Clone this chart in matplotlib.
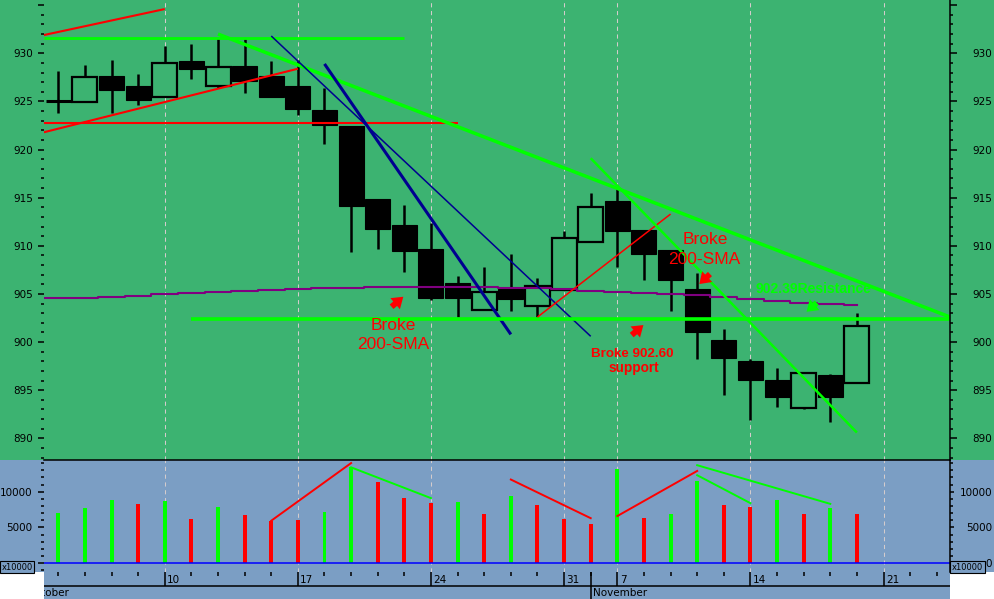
import matplotlib
matplotlib.use('Agg')
import matplotlib.pyplot as plt
from matplotlib.patches import Rectangle
from matplotlib.ticker import FixedLocator, FixedFormatter, MultipleLocator

# ---------------- data ----------------
opens  = [925.0, 924.9, 927.6, 926.6, 925.5, 929.2, 926.6, 928.7, 927.6, 926.6,
          924.1, 922.4, 914.9, 912.2, 909.7, 906.1, 903.3, 905.5, 903.8, 905.4,
          910.4, 914.7, 911.6, 909.6, 905.5, 900.2, 898.0, 896.1, 893.2, 896.6, 895.7]
highs  = [928.2, 928.8, 929.3, 927.9, 930.8, 931.0, 931.6, 931.5, 929.2, 929.3,
          926.4, 922.4, 914.9, 914.2, 912.4, 906.9, 907.8, 909.1, 906.7, 911.5,
          915.5, 916.0, 911.6, 909.6, 907.2, 901.4, 898.2, 897.3, 896.8, 896.7, 903.0]
lows   = [923.8, 924.9, 923.8, 924.6, 925.5, 927.3, 926.4, 925.9, 925.5, 923.6,
          920.6, 909.4, 909.7, 907.3, 904.4, 902.6, 903.3, 903.2, 902.6, 905.4,
          910.4, 907.8, 906.4, 903.2, 898.2, 894.5, 891.9, 893.3, 893.0, 891.7, 895.7]
closes = [925.0, 927.5, 926.2, 925.2, 929.0, 928.4, 928.6, 927.1, 925.5, 924.2,
          922.6, 914.1, 911.7, 909.5, 904.6, 904.6, 905.2, 904.5, 905.8, 910.8,
          914.0, 911.5, 909.1, 906.5, 901.0, 898.3, 896.1, 894.3, 896.8, 894.3, 901.7]
volumes = [7000, 7700, 8800, 8250, 8700, 6250, 7900, 6700, 5950, 6050,
           7100, 13450, 11400, 9150, 8450, 8600, 6850, 9400, 8100, 6250,
           5500, 13150, 6350, 6850, 11450, 8200, 7900, 8800, 6850, 7700, 6950]
vol_colors = ['g', 'g', 'g', 'r', 'g', 'r', 'g', 'r', 'r', 'r',
              'g', 'g', 'r', 'r', 'r', 'g', 'r', 'g', 'r', 'r',
              'r', 'g', 'r', 'g', 'g', 'r', 'r', 'g', 'r', 'g', 'r']
sma200 = [904.55, 904.6, 904.7, 904.8, 905.0, 905.1, 905.2, 905.3, 905.45, 905.55,
          905.6, 905.65, 905.7, 905.7, 905.7, 905.7, 905.7, 905.65, 905.6, 905.5,
          905.35, 905.2, 905.05, 905.0, 904.85, 904.7, 904.5, 904.3, 904.1, 904.0, 903.85]

day_tick_idx = [4, 9, 14, 19, 21, 26, 31]
day_labels = ['10', '17', '24', '31', '7', '14', '21']
month_labels = ['October', 'November']
month_start_idx = 20
n_slots = 34

# trend lines drawn on the chart: (x0, y0, x1, y1, colour, width)
price_lines = [
    (-0.54, 931.9, 4.0, 934.6, '#ff0000', 1.5),
    (-0.54, 931.6, 13.0, 931.6, '#00ff00', 2.0),
    (-0.54, 921.8, 9.0, 928.4, '#ff0000', 1.5),
    (-0.54, 922.8, 15.0, 922.8, '#ff0000', 1.5),
    (6.0, 932.0, 33.5, 902.6, '#00ff00', 2.5),
    (8.0, 931.8, 20.0, 900.6, '#000090', 1.1),
    (10.0, 928.9, 17.0, 900.8, '#000090', 2.2),
    (5.0, 902.39, 33.5, 902.39, '#00ff00', 2.6),
    (18.0, 902.6, 23.0, 913.3, '#ff0000', 1.1),
    (20.0, 919.1, 30.0, 890.6, '#00ff00', 1.8),
]
vol_lines = [
    (8, 5950, 11, 14000, '#ff0000'),
    (11, 13400, 14, 9100, '#00ff00'),
    (17, 11700, 20, 6300, '#ff0000'),
    (21, 6600, 24, 12900, '#ff0000'),
    (24, 13700, 29, 8300, '#00ff00'),
    (24, 12300, 26, 8400, '#00ff00'),
]

# ---------------- layout ----------------
W_PX, H_PX = 994, 599
BG_PRICE = '#3cb371'
BG_VOL = '#7b9ec4'
RED = '#ff0000'
GREEN = '#00ff00'

def fx(px):
    return px / W_PX

def fy(py):
    return 1 - py / H_PX

XL, XR = 44, 950
XLIM = (-0.537, 33.497)
PLIM = (887.75, 935.54)
VLIM = (-1215, 14427)

fig = plt.figure(figsize=(W_PX / 100, H_PX / 100), dpi=100, facecolor='white')
fig.patches.append(Rectangle((0, fy(460)), 1, 1 - fy(460), transform=fig.transFigure,
                             facecolor=BG_PRICE, edgecolor='none', zorder=-10))
fig.patches.append(Rectangle((0, fy(572)), 1, fy(460) - fy(572), transform=fig.transFigure,
                             facecolor=BG_VOL, edgecolor='none', zorder=-10))
fig.patches.append(Rectangle((fx(XL), 0), fx(XR) - fx(XL), fy(572), transform=fig.transFigure,
                             facecolor=BG_VOL, edgecolor='none', zorder=-10))

axw = fx(XR) - fx(XL)
ax = fig.add_axes([fx(XL), fy(460), axw, 1 - fy(460)])
axv = fig.add_axes([fx(XL), fy(572), axw, fy(460) - fy(572)])
axd = fig.add_axes([fx(XL), 0, axw, fy(572)])
for a in (ax, axv, axd):
    a.set_facecolor('none')
    a.set_xlim(XLIM)
    for s in a.spines.values():
        s.set_visible(False)
    a.tick_params(axis='x', which='both', bottom=False, top=False,
                  labelbottom=False, labeltop=False)

GRID = dict(color='#d4cccc', lw=0.75, dashes=(4, 3.5), zorder=0)
for g in day_tick_idx:
    ax.axvline(g, **GRID)
    axv.axvline(g, **GRID)

# ---------------- y axes ----------------
def setup_y(a, lim, major, minor, left_labels, right_labels,
            lmaj, lmin, lpad, rmaj, rmin, rpad):
    a.set_ylim(lim)
    a.yaxis.set_major_locator(FixedLocator(major))
    a.yaxis.set_major_formatter(FixedFormatter(left_labels))
    a.yaxis.set_minor_locator(MultipleLocator(minor))
    a.tick_params(axis='y', which='major', left=True, right=False, labelleft=True,
                  labelright=False, length=lmaj, width=1.1, pad=lpad, labelsize=7.5,
                  colors='black')
    a.tick_params(axis='y', which='minor', left=True, right=False, length=lmin, width=1.1)
    r = a.twinx()
    r.set_ylim(lim)
    r.set_facecolor('none')
    for s in r.spines.values():
        s.set_visible(False)
    r.spines['right'].set_visible(True)
    r.spines['right'].set_linewidth(1.1)
    r.yaxis.set_major_locator(FixedLocator(major))
    r.yaxis.set_major_formatter(FixedFormatter(right_labels))
    r.yaxis.set_minor_locator(MultipleLocator(minor))
    r.tick_params(axis='y', which='major', right=True, left=False, labelright=True,
                  labelleft=False, length=rmaj, width=1.1, pad=rpad, labelsize=7.5,
                  colors='black')
    r.tick_params(axis='y', which='minor', right=True, left=False, length=rmin, width=1.1)
    for t in r.yaxis.get_major_ticks():
        t.label2.set_horizontalalignment('right')
    return r

pmaj = [890, 895, 900, 905, 910, 915, 920, 925, 930, 935]
plab = ['890', '895', '900', '905', '910', '915', '920', '925', '930', '']
axr = setup_y(ax, PLIM, pmaj, 1, plab, plab, 4.3, 2.4, 3.4, 5.0, 2.2, 25.2)
vmaj = [0, 5000, 10000]
axvr = setup_y(axv, VLIM, vmaj, 1000, ['', '5000', '10000'], ['0', '5000', '10000'],
               4.1, 2.4, 4.3, 2.9, 2.2, 27.4)
axv.spines['top'].set_visible(True)
axv.spines['top'].set_linewidth(1.1)

# ---------------- candles ----------------
BODY_W = 0.94
for i, (o, h, l, c) in enumerate(zip(opens, highs, lows, closes)):
    ax.vlines(i, l, h, color='black', lw=1.8, zorder=2)
    lo, hi = min(o, c), max(o, c)
    if hi - lo < 0.05:
        ax.hlines(o, i - BODY_W / 2, i + BODY_W / 2, color='black', lw=2.2, zorder=3)
    elif c > o:
        ax.add_patch(Rectangle((i - BODY_W / 2, lo), BODY_W, hi - lo, facecolor=BG_PRICE,
                               edgecolor='black', lw=1.6, zorder=3))
    else:
        ax.add_patch(Rectangle((i - BODY_W / 2, lo), BODY_W, hi - lo, facecolor='black',
                               edgecolor='black', lw=0.8, zorder=3))

# 200-SMA (stepped)
sx = [XLIM[0]] + list(range(len(sma200)))
sy = [sma200[0]] + sma200
ax.plot(sx, sy, color='#800080', lw=1.5, drawstyle='steps-mid', zorder=4)

for x0, y0, x1, y1, col, lw in price_lines:
    ax.plot([x0, x1], [y0, y1], color=col, lw=lw, solid_capstyle='butt', zorder=5)

# annotations
TXT = dict(family=['Liberation Sans', 'DejaVu Sans'], zorder=6)
ax.text(12.6, 901.25, 'Broke', color=RED, fontsize=12.5, ha='center', va='baseline', **TXT)
ax.text(12.6, 899.25, '200-SMA', color=RED, fontsize=12.5, ha='center', va='baseline', **TXT)
ax.text(24.3, 910.16, 'Broke', color=RED, fontsize=12.5, ha='center', va='baseline', **TXT)
ax.text(24.27, 908.08, '200-SMA', color=RED, fontsize=12.5, ha='center', va='baseline', **TXT)
ax.text(21.57, 898.48, 'Broke 902.60', color=RED, fontsize=9.6, fontweight='bold',
        ha='center', va='baseline', **TXT)
ax.text(21.62, 896.92, 'support', color=RED, fontsize=9.8, fontweight='bold',
        ha='center', va='baseline', **TXT)
ax.text(28.35, 905.13, '902.39Resistance', color=GREEN, fontsize=10, fontweight='bold',
        ha='center', va='baseline', **TXT)

ARROW = 'simple,head_length=0.55,head_width=0.75,tail_width=0.3'
for (tx, ty, hx, hy, col) in [(12.52, 903.67, 12.96, 904.71, RED),
                              (21.54, 900.73, 21.98, 901.77, RED),
                              (24.48, 907.07, 24.08, 906.03, RED),
                              (28.49, 904.09, 28.11, 903.15, GREEN)]:
    ax.annotate('', xy=(hx, hy), xytext=(tx, ty),
                arrowprops=dict(arrowstyle=ARROW, color=col, lw=0, shrinkA=0, shrinkB=0,
                                mutation_scale=14), zorder=6)

# ---------------- volume ----------------
cmap = {'g': GREEN, 'r': RED}
axv.bar(range(len(volumes)), volumes, width=0.15, color=[cmap[c] for c in vol_colors],
        zorder=2)
axv.axhline(0, color='#0000ff', lw=1.1, zorder=3)
for x0, y0, x1, y1, col in vol_lines:
    axv.plot([x0, x1], [y0, y1], color=col, lw=1.4, zorder=4)

# ---------------- date axis ----------------
axd.set_ylim(0, 1)
axd.xaxis.set_ticks_position('top')
axd.xaxis.set_major_locator(FixedLocator(day_tick_idx))
axd.xaxis.set_minor_locator(FixedLocator(list(range(n_slots))))
axd.tick_params(axis='x', which='major', top=True, direction='in', length=9.9, width=1.1,
                labeltop=False)
axd.tick_params(axis='x', which='minor', top=True, direction='in', length=3.2, width=1.1)
axd.tick_params(axis='y', left=False, labelleft=False)
axd.axhline((H_PX - 586) / (H_PX - 572), color='black', lw=1.1)
axd.axvline(month_start_idx, color='black', lw=1.1)
for xi, lab in zip(day_tick_idx, day_labels):
    axd.text(xi + 0.09, 0.70, lab, fontsize=7.5, ha='left', va='center')
axd.text(0.40, 0.22, month_labels[0], fontsize=7.5, ha='right', va='center', clip_on=True)
axd.text(month_start_idx + 0.08, 0.22, month_labels[1], fontsize=7.5, ha='left', va='center')

# x10000 boxes
BOX = dict(boxstyle='square,pad=0.2', facecolor=BG_VOL, edgecolor='black', lw=0.8)
fig.text(fx(17), fy(567.3), 'x10000', fontsize=6, ha='center', va='center', bbox=BOX)
fig.text(fx(967.3), fy(567.3), 'x10000', fontsize=6, ha='center', va='center', bbox=BOX)

fig.savefig('out.png', dpi=100, facecolor='white')
